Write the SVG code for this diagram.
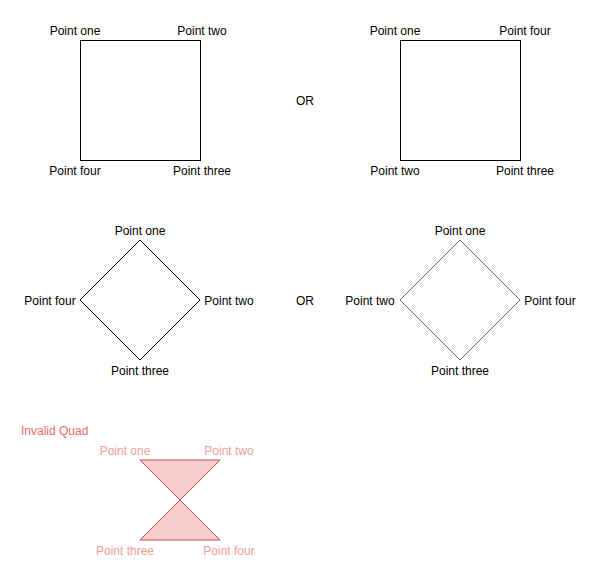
<svg xmlns="http://www.w3.org/2000/svg" width="601" height="571" viewBox="0 0 601 571">
<style>
text{font-family:"Liberation Sans",Arial,sans-serif;font-size:12px;fill:#000;text-anchor:middle}
.shape{fill:#fff;stroke:#000;stroke-width:1}
.gray{stroke:#666}
.red{fill:#f8cecc;stroke:#b85450}
text.pink{fill:#f19c99}
text.title{fill:#ea6b66;text-anchor:start}
</style>
<rect width="601" height="571" fill="#fff"/>
<g id="square1">
<rect class="shape" x="80.5" y="40.5" width="120" height="120"/>
<text x="75" y="35">Point one</text>
<text x="202" y="35">Point two</text>
<text x="75" y="175">Point four</text>
<text x="202" y="175">Point three</text>
</g>
<g id="or1"><text x="305" y="105">OR</text></g>
<g id="square2">
<rect class="shape" x="400.5" y="40.5" width="120" height="120"/>
<text x="395" y="35">Point one</text>
<text x="525" y="35">Point four</text>
<text x="395" y="175">Point two</text>
<text x="525" y="175">Point three</text>
</g>
<g id="diamond1">
<polygon class="shape" points="140,240 200,300 140,360 80,300"/>
<text x="140" y="235">Point one</text>
<text x="229" y="305">Point two</text>
<text x="140" y="375">Point three</text>
<text x="50" y="305">Point four</text>
</g>
<g id="or2"><text x="305" y="305">OR</text></g>
<g id="diamond2">
<polygon class="shape gray" points="460,240 520,300 460,360 400,300"/>
<text x="460" y="235">Point one</text>
<text x="370" y="305">Point two</text>
<text x="460" y="375">Point three</text>
<text x="550" y="305">Point four</text>
</g>
<g id="invalid">
<text class="title" x="21" y="435">Invalid Quad</text>
<polygon class="red" points="140,460 220,460 140,540 220,540"/>
<text class="pink" x="125" y="455">Point one</text>
<text class="pink" x="229" y="455">Point two</text>
<text class="pink" x="125" y="555">Point three</text>
<text class="pink" x="229" y="555">Point four</text>
</g>
<g id="connectors"></g>
</svg>
